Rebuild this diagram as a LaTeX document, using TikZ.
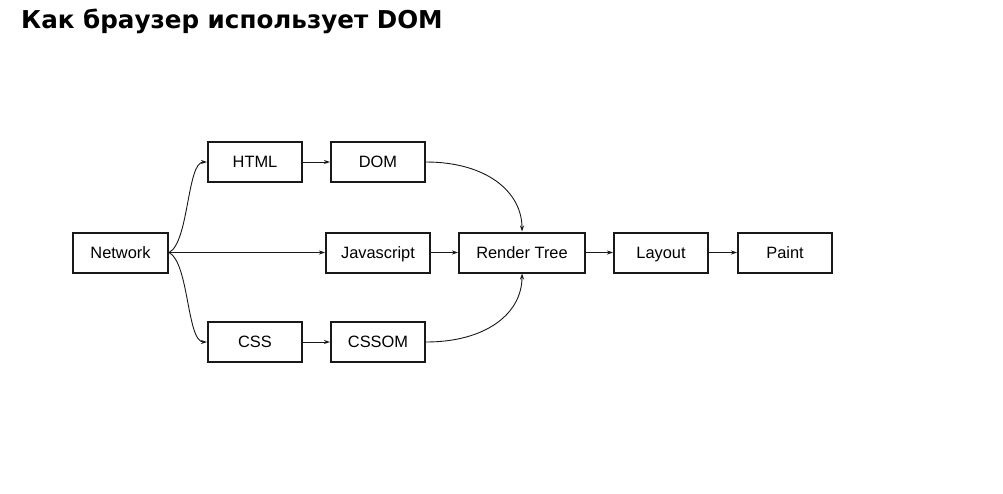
\documentclass[tikz,border=0pt]{standalone}
\usepackage{fontspec}
\setmainfont{Liberation Sans}
\newfontfamily\titlefont{DejaVu Sans}
\usetikzlibrary{arrows.meta}
\begin{document}
\begin{tikzpicture}[x=1pt,y=-1pt,
  box/.style={draw=black!90,line width=2pt,minimum height=40pt,inner sep=0pt,text height=15pt,text depth=3.2pt,font=\fontsize{16.4}{18}\selectfont},
  conn/.style={draw=black!90,line width=0.9pt,-{Stealth[length=6pt,width=4pt]}}]
\useasboundingbox[fill=white] (0,0) rectangle (1003,493);
\node[anchor=base west,inner sep=0pt,font=\titlefont\bfseries\fontsize{24.6}{28}\selectfont] (title) at (21,28) {Как браузер использует DOM};
\node[box,minimum width=95pt] (net) at (120.5,252.5) {Network};
\node[box,minimum width=94pt] (html) at (255,162) {HTML};
\node[box,minimum width=94pt] (dom) at (378,162) {DOM};
\node[box,minimum width=104pt] (js) at (378,252.5) {Javascript};
\node[box,minimum width=94pt] (css) at (255,342) {CSS};
\node[box,minimum width=94pt] (cssom) at (378,342) {CSSOM};
\node[box,minimum width=126pt] (rt) at (522,252.5) {Render Tree};
\node[box,minimum width=94pt] (lay) at (661,252.5) {Layout};
\node[box,minimum width=94pt] (paint) at (785,252.5) {Paint};
\draw[conn] (net.east) .. controls +(20,-10) and +(-20,0) .. (html.west);
\draw[conn] (net.east) .. controls +(20,10) and +(-20,0) .. (css.west);
\draw[conn] (net.east) -- (js.west);
\draw[conn] (html) -- (dom);
\draw[conn] (css) -- (cssom);
\draw[conn] (dom.east) .. controls +(60,0) and +(0,-40) .. (rt.north);
\draw[conn] (cssom.east) .. controls +(60,0) and +(0,40) .. (rt.south);
\draw[conn] (js) -- (rt);
\draw[conn] (rt) -- (lay);
\draw[conn] (lay) -- (paint);
\end{tikzpicture}
\end{document}
